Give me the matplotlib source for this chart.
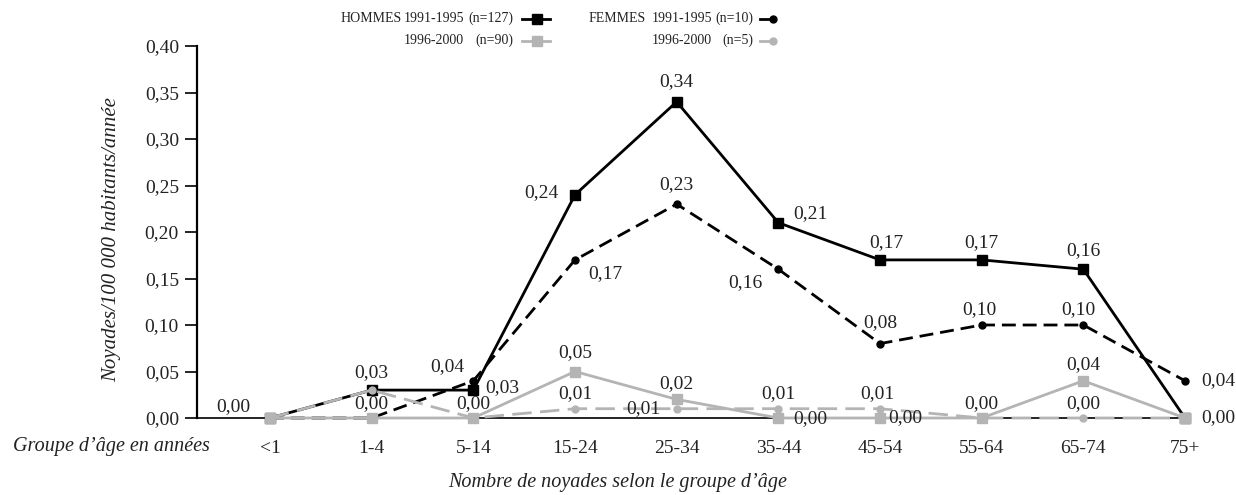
import matplotlib
matplotlib.use("Agg")
import matplotlib.pyplot as plt
from matplotlib.lines import Line2D
import numpy as np

plt.rcParams['font.family'] = ['Liberation Serif', 'DejaVu Serif']

# age groups
groupes = ['<1', '1-4', '5-14', '15-24', '25-34', '35-44', '45-54', '55-64', '65-74', '75+']

# rates per 100 000 per year
hommes_9195 = [0.00, 0.03, 0.03, 0.24, 0.34, 0.21, 0.17, 0.17, 0.16, 0.00]
femmes_9195 = [0.00, 0.00, 0.04, 0.17, 0.23, 0.16, 0.08, 0.10, 0.10, 0.04]
hommes_9600 = [0.00, 0.00, 0.00, 0.05, 0.02, 0.00, 0.00, 0.00, 0.04, 0.00]
femmes_9600 = [0.00, 0.03, 0.00, 0.01, 0.01, 0.01, 0.01, 0.00, 0.00, 0.00]

yticks = [0.00, 0.05, 0.10, 0.15, 0.20, 0.25, 0.30, 0.35, 0.40]

# label offsets in pixels (None = no label)
off_h1 = [(-37, 11), (0, 18), (29, 3), (-34, 2), (0, 20), (32, 9), (6, 17), (0, 17), (0, 19), (34, 0)]
off_f1 = [None, None, (-26, 14), (30, -14), (0, 20), (-33, -13), (0, 21), (-2, 15), (-5, 15), (34, 0)]
off_h2 = [None, (0, 14), (0, 14), (0, 19), (0, 16), (32, -1), (25, 0), (0, 14), (0, 16), None]
off_f2 = [None, None, None, (0, 15), (-33, 0), (0, 15), (-3, 15), None, (0, 14), None]

GRIS = '#b4b4b4'
TXT = '#222222'

fig = plt.figure(figsize=(12.36, 4.95), dpi=100)
ax = fig.add_axes([197/1236, 1-418/495, (1185-197)/1236, (418-46)/495])

x = np.arange(len(groupes))

ax.plot(x, hommes_9195, color='black', lw=2, marker='s', ms=7, clip_on=False, zorder=3)
ax.plot(x, femmes_9195, color='black', lw=2, ls=(0, (5, 2.5)), marker='o', ms=5, clip_on=False, zorder=3)
ax.plot(x, hommes_9600, color=GRIS, lw=2, marker='s', ms=7, clip_on=False, zorder=4)
ax.plot(x, femmes_9600, color=GRIS, lw=2, ls=(0, (7, 3)), marker='o', ms=5, clip_on=False, zorder=4)

for vals, offs in [(hommes_9195, off_h1), (femmes_9195, off_f1), (hommes_9600, off_h2), (femmes_9600, off_f2)]:
    for i, v in enumerate(vals):
        if offs[i] is None:
            continue
        # last point: anchor left so the text stays inside the figure
        if i == len(vals) - 1:
            ax.annotate(f"{v:.2f}".replace('.', ','), (x[i], v), xytext=(16, offs[i][1]),
                        textcoords='offset pixels', ha='left', va='center',
                        fontsize=14, color=TXT, zorder=5)
            continue
        ax.annotate(f"{v:.2f}".replace('.', ','), (x[i], v), xytext=offs[i],
                    textcoords='offset pixels', ha='center', va='center',
                    fontsize=14, color=TXT, zorder=5)

ax.set_xlim(-0.718, 9)
ax.set_ylim(0, 0.40)
ax.set_yticks(yticks)
ax.set_yticklabels([f"{t:.2f}".replace('.', ',') for t in yticks])
ax.set_xticks(x)
ax.set_xticklabels(groupes)
ax.tick_params(axis='y', length=9, width=1.2, pad=4, labelsize=14, labelcolor=TXT)
ax.tick_params(axis='x', length=0, pad=16, labelsize=14, labelcolor=TXT)
ax.spines['top'].set_visible(False)
ax.spines['right'].set_visible(False)
ax.spines['left'].set_linewidth(1.6)
ax.spines['bottom'].set_linewidth(1.2)

fig.text(112/1236, 1-240/495, "Noyades/100 000 habitants/année", rotation=90,
         ha='center', va='center', fontsize=15, style='italic', color=TXT)
fig.text(210/1236, 1-447/495, "Groupe d’âge en années", ha='right', va='center',
         fontsize=14.5, style='italic', color=TXT)
fig.text(618/1236, 1-483/495, "Nombre de noyades selon le groupe d’âge", ha='center',
         va='center', fontsize=14.5, style='italic', color=TXT)

# legend drawn by hand
def fx(px):
    return px/1236

def fy(py):
    return 1-py/495

leg_fs = 10
leg_txt = [
    ("HOMMES", 402, 18), ("1991-1995", 464, 18), ("(n=127)", 513, 18),
    ("1996-2000", 464, 40), ("(n=90)", 513, 40),
    ("FEMMES", 646, 18), ("1991-1995", 712, 18), ("(n=10)", 753, 18),
    ("1996-2000", 712, 40), ("(n=5)", 753, 40),
]
for s, px, py in leg_txt:
    fig.text(fx(px), fy(py), s, ha='right', va='center', fontsize=leg_fs, color=TXT)

fig.add_artist(Line2D([fx(522), fx(550)], [fy(19), fy(19)], color='black', lw=2))
fig.add_artist(Line2D([fx(537)], [fy(19)], color='black', marker='s', ms=7))
fig.add_artist(Line2D([fx(522), fx(550)], [fy(41), fy(41)], color=GRIS, lw=2))
fig.add_artist(Line2D([fx(537)], [fy(41)], color=GRIS, marker='s', ms=7))
fig.add_artist(Line2D([fx(760), fx(775)], [fy(19), fy(19)], color='black', lw=2))
fig.add_artist(Line2D([fx(773)], [fy(19)], color='black', marker='o', ms=5))
fig.add_artist(Line2D([fx(760), fx(775)], [fy(41), fy(41)], color=GRIS, lw=2))
fig.add_artist(Line2D([fx(773)], [fy(41)], color=GRIS, marker='o', ms=5))

fig.savefig("out.png", dpi=100)
